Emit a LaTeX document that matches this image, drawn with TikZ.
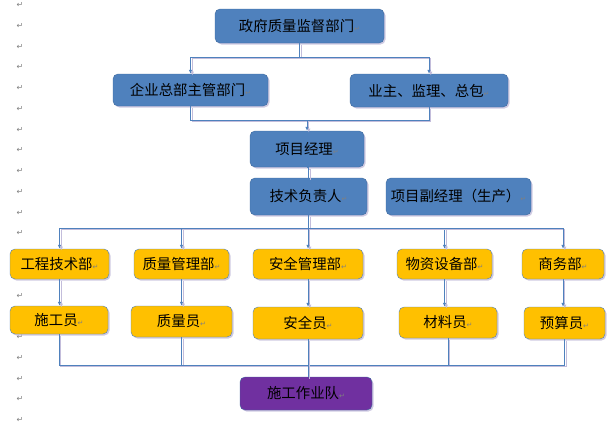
\documentclass[tikz,border=0pt]{standalone}
\usepackage{fontspec}
\usepackage{xcolor}
\newfontfamily\cjk{Noto Sans CJK SC}
\newfontfamily\symfont{DejaVu Sans}
\usetikzlibrary{arrows.meta}
\usetikzlibrary{shadows}
\definecolor{boxblue}{HTML}{4F81BD}
\definecolor{edgeblue}{HTML}{3F6A9E}
\definecolor{boxyellow}{HTML}{FFC000}
\definecolor{boxpurple}{HTML}{7030A0}
\definecolor{shadelav}{HTML}{C3BDDB}
\newcommand{\retmark}{{\symfont\fontsize{7}{7}\selectfont\color{gray}↵}}

\begin{document}
\begin{tikzpicture}[x=1pt, y=-1pt, >={Latex[length=4pt,width=3.5pt]},
	box/.style={draw=edgeblue, rounded corners=5pt, inner sep=0pt,
		font=\cjk\fontsize{14.4}{16}\selectfont,
		drop shadow={shadow xshift=1.5pt, shadow yshift=-1.5pt, fill=shadelav, opacity=0.8}},
	bluebox/.style={box, fill=boxblue},
	yelbox/.style={box, fill=boxyellow, draw=boxblue},
	purbox/.style={box, fill=boxpurple},
	link/.style={draw=boxblue, line width=0.8pt,
		preaction={draw=shadelav, line width=0.8pt, transform canvas={shift={(1.8pt,-1.8pt)}}}},
	retm/.style={font=\symfont\fontsize{8}{8}\selectfont, text=gray, inner sep=0pt}]
	\useasboundingbox (0,0) rectangle (613,424);
	% paragraph marks on the left margin
	\foreach \k in {0,...,20}
		\node[retm] (m\k) at (20, 5+20.75*\k) {↵};
	% top levels
	\node[bluebox, minimum width=169pt, minimum height=34pt] (gov) at (299.5, 26) {政府质量监督部门\retmark};
	\node[bluebox, minimum width=155pt, minimum height=32pt] (corp) at (190.5, 90) {企业总部主管部门\retmark};
	\node[bluebox, minimum width=158pt, minimum height=33pt] (owner) at (429, 90.5) {业主、监理、总包\retmark};
	\node[bluebox, minimum width=114pt, minimum height=36pt] (pm) at (307, 149) {项目经理\retmark};
	\node[bluebox, minimum width=117pt, minimum height=37pt] (tech) at (308.5, 196.5) {技术负责人\retmark};
	\node[bluebox, minimum width=145pt, minimum height=37pt] (vpm) at (458.5, 196.5) {项目副经理（生产）\retmark};
	% departments
	\node[yelbox, minimum width=99pt, minimum height=30pt] (eng) at (59.5, 264) {工程技术部\retmark};
	\node[yelbox, minimum width=95pt, minimum height=30pt] (qual) at (181.5, 264) {质量管理部\retmark};
	\node[yelbox, minimum width=110pt, minimum height=30pt] (safe) at (308, 264) {安全管理部\retmark};
	\node[yelbox, minimum width=95pt, minimum height=30pt] (mat) at (444.5, 264) {物资设备部\retmark};
	\node[yelbox, minimum width=82pt, minimum height=30pt] (biz) at (563, 264) {商务部\retmark};
	% staff
	\node[yelbox, minimum width=98pt, minimum height=28pt] (worker) at (59, 320) {施工员\retmark};
	\node[yelbox, minimum width=101pt, minimum height=31pt] (qman) at (181.5, 321.5) {质量员\retmark};
	\node[yelbox, minimum width=110pt, minimum height=32pt] (sman) at (308, 323) {安全员\retmark};
	\node[yelbox, minimum width=98pt, minimum height=31pt] (mman) at (448, 322.5) {材料员\retmark};
	\node[yelbox, minimum width=81pt, minimum height=32pt] (cost) at (564.5, 323) {预算员\retmark};
	\node[purbox, minimum width=132pt, minimum height=33pt] (team) at (306, 393.5) {施工作业队\retmark};
	% bus lines
	\coordinate (busa) at (0, 57);
	\coordinate (busb) at (0, 120);
	\coordinate (busc) at (0, 228);
	\coordinate (busd) at (0, 365);
	\draw[link] (gov.south) -- (gov.south |- busa);
	\draw[link, ->] (gov.south |- busa) -| (corp.north);
	\draw[link, ->] (gov.south |- busa) -| (owner.north);
	\draw[link] (corp.south) |- (owner.south |- busb) -- (owner.south);
	\draw[link, ->] (pm.north |- busb) -- (pm.north);
	\draw[link] (pm.south) -- (pm.south -| tech.north) -- (tech.north);
	\draw[link] (tech.south) -- (tech.south |- busc);
	\foreach \d in {eng, qual, safe, mat, biz}
		\draw[link, ->] (tech.south |- busc) -| (\d.north);
	\draw[link, ->] (eng.south) -- (eng.south |- worker.north);
	\draw[link, ->] (qual.south) -- (qual.south |- qman.north);
	\draw[link, ->] (safe.south) -- (safe.south |- sman.north);
	\draw[link, ->] (mat.south) -- (mat.south |- mman.north);
	\draw[link, ->] (biz.south) -- (biz.south |- cost.north);
	\foreach \s in {worker, qman, mman, cost}
		\draw[link] (\s.south) |- (sman.south |- busd);
	\draw[link] (sman.south) -- (sman.south |- team.north);
\end{tikzpicture}
\end{document}
